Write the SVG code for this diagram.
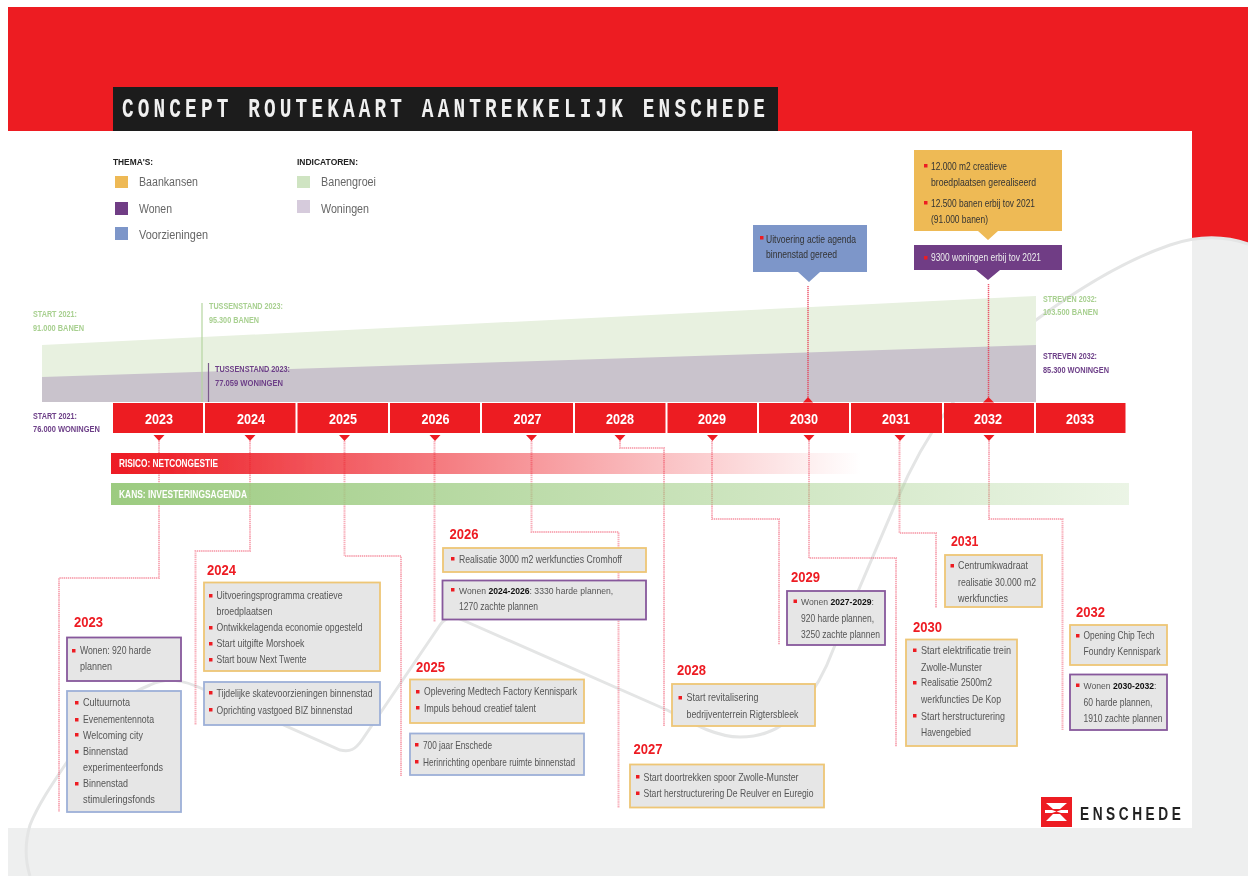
<svg xmlns="http://www.w3.org/2000/svg" width="1254" height="876" viewBox="0 0 1254 876">
<style>
text{font-family:"Liberation Sans",Arial,sans-serif;font-size:10.5px;fill:#555}
.title{font-family:"Liberation Mono",monospace;font-weight:700;font-size:27px;fill:#f0f0f0}
.head{font-weight:700;font-size:9.5px;fill:#222}
.leg{font-size:12.5px;fill:#666}
.g{font-weight:700;font-size:9px;fill:#a8d090}
.p{font-weight:700;font-size:9px;fill:#6d3f88}
.yr{font-weight:700;font-size:14.5px;fill:#fff;text-anchor:middle}
.h{font-weight:700;font-size:15.5px;fill:#ed1c24}
.bar{font-weight:700;font-size:10px;fill:#fff}
.d{fill:#333}.w{fill:#eee}
.b{font-weight:700;fill:#111}
.s{font-size:8.600px}
.bul{fill:#ed1c24;width:3.500px;height:3.500px}
.box{fill:#e6e6e6;stroke-width:1.8}
.go{stroke:#eec676}.pu{stroke:#87589c}.bl{stroke:#9db0d8}
.yrbox{fill:#ed1c24}
.con{fill:none;stroke:#f0506a;stroke-width:2;stroke-dasharray:1.400 .7;opacity:.47}
.con2{fill:none;stroke:#e8304a;stroke-width:1.500;stroke-dasharray:1.200 .8;opacity:.8}
.tri{fill:#ed1c24}
.logo{font-weight:700;font-size:19px;fill:#222}
</style>
<defs>
<linearGradient id="rg" x1="0" x2="1" y1="0" y2="0"><stop offset="0" stop-color="#ed1c24"/><stop offset=".08" stop-color="#ed1c24" stop-opacity=".95"/><stop offset="1" stop-color="#ed1c24" stop-opacity="0"/></linearGradient>
<linearGradient id="gg" x1="0" x2="1" y1="0" y2="0"><stop offset="0" stop-color="#9ccb80"/><stop offset="1" stop-color="#9ccb80" stop-opacity=".2"/></linearGradient>
<filter id="soft" x="0" y="0" width="100%" height="100%"><feGaussianBlur stdDeviation=".4"/></filter>
</defs>
<rect width="1254" height="876" fill="#fff"/>
<g filter="url(#soft)">
<g id="background">
<rect x="8" y="7" width="1240" height="240" fill="#ed1c24"/>
<path d="M1192,240Q1212,234 1248,244V876H1192Z" fill="#eeefef"/>
<rect x="8" y="828" width="1240" height="48" fill="#eeefef"/>
<rect x="8" y="131" width="1184" height="697" fill="#fff"/>
<path d="M1248,244C1225,236 1200,235 1170,245C1120,262 1070,295 1036,320C980,362 930,420 897,500L833,650C825,672 815,690 800,708C785,727 765,737 740,737C715,737 690,722 667,710L467,622C455,616 447,615 440,625L362,740C355,750 350,752 340,750L205,690C180,678 165,678 150,685C125,695 95,715 75,750C60,773 40,800 30,825C25,842 25,860 30,876" fill="none" stroke="#e4e5e5" stroke-width="3"/>
</g>
<g id="title">
<rect x="113" y="87" width="665" height="44" fill="#1d1d1d"/>
<text class="title" transform="translate(122,117) scale(.72,1)" textLength="893" lengthAdjust="spacing">CONCEPT ROUTEKAART AANTREKKELIJK ENSCHEDE</text>
</g>
<g id="legend">
<text class="head" x="113" y="165" textLength="40" lengthAdjust="spacingAndGlyphs">THEMA'S:</text>
<rect x="115" y="176" width="13" height="12" fill="#eeb955"/><text class="leg" x="139" y="186" textLength="59" lengthAdjust="spacingAndGlyphs">Baankansen</text>
<rect x="115" y="202" width="13" height="13" fill="#6f3d85"/><text class="leg" x="139" y="213" textLength="33" lengthAdjust="spacingAndGlyphs">Wonen</text>
<rect x="115" y="227" width="13" height="13" fill="#7d96c9"/><text class="leg" x="139" y="239" textLength="69" lengthAdjust="spacingAndGlyphs">Voorzieningen</text>
<text class="head" x="297" y="165" textLength="61" lengthAdjust="spacingAndGlyphs">INDICATOREN:</text>
<rect x="297" y="176" width="13" height="12" fill="#cfe4c2"/><text class="leg" x="321" y="186" textLength="55" lengthAdjust="spacingAndGlyphs">Banengroei</text>
<rect x="297" y="200" width="13" height="13" fill="#d6cbdc"/><text class="leg" x="321" y="213" textLength="48" lengthAdjust="spacingAndGlyphs">Woningen</text>
</g>
<g id="indicators">
<polygon points="42,345 1036,296 1036,402 42,402" fill="#e8f1e0"/>
<polygon points="42,377 1036,345 1036,402 42,402" fill="#c9c3cc"/>
<path d="M202,303V402" stroke="#b5d6a0" stroke-width="1.200"/>
<path d="M208.500,363V402" stroke="#7a5a8a" stroke-width="1.200"/>
<text class="g" x="33" y="317" textLength="44" lengthAdjust="spacingAndGlyphs">START 2021:</text>
<text class="g" x="33" y="331" textLength="51" lengthAdjust="spacingAndGlyphs">91.000 BANEN</text>
<text class="g" x="209" y="309" textLength="74" lengthAdjust="spacingAndGlyphs">TUSSENSTAND 2023:</text>
<text class="g" x="209" y="323" textLength="50" lengthAdjust="spacingAndGlyphs">95.300 BANEN</text>
<text class="p" x="215" y="372" textLength="75" lengthAdjust="spacingAndGlyphs">TUSSENSTAND 2023:</text>
<text class="p" x="215" y="386" textLength="68" lengthAdjust="spacingAndGlyphs">77.059 WONINGEN</text>
<text class="p" x="33" y="419" textLength="44" lengthAdjust="spacingAndGlyphs">START 2021:</text>
<text class="p" x="33" y="432" textLength="67" lengthAdjust="spacingAndGlyphs">76.000 WONINGEN</text>
<text class="g" x="1043" y="302" textLength="54" lengthAdjust="spacingAndGlyphs">STREVEN 2032:</text>
<text class="g" x="1043" y="315" textLength="55" lengthAdjust="spacingAndGlyphs">103.500 BANEN</text>
<text class="p" x="1043" y="359" textLength="54" lengthAdjust="spacingAndGlyphs">STREVEN 2032:</text>
<text class="p" x="1043" y="373" textLength="66" lengthAdjust="spacingAndGlyphs">85.300 WONINGEN</text>
</g>
<g id="connectors">
<path class="con" d="M159,441V578H59V812"/>
<path class="con" d="M250,441V551H195.500V725"/>
<path class="con" d="M344.500,441V556H401V776"/>
<path class="con" d="M434.500,441V622"/>
<path class="con" d="M531.500,441V532H618.500V808"/>
<path class="con" d="M620,441V448H664V726"/>
<path class="con" d="M712,441V519H779V645"/>
<path class="con" d="M809,441V558H896V747"/>
<path class="con" d="M899.500,441V533H936V608"/>
<path class="con" d="M989,441V519H1062.500V730"/>
<path class="con2" d="M808,286V400"/>
<path class="con2" d="M988.500,284V400"/>
<polygon class="tri" points="803,402.500 808,397 813,402.500"/>
<polygon class="tri" points="983,402.500 988.500,397 994,402.500"/>
<polygon class="tri" points="153.500,435 164.500,435 159,441"/>
<polygon class="tri" points="244.500,435 255.500,435 250,441"/>
<polygon class="tri" points="339,435 350,435 344.500,441"/>
<polygon class="tri" points="429.500,435 440.500,435 435,441"/>
<polygon class="tri" points="526,435 537,435 531.500,441"/>
<polygon class="tri" points="614.500,435 625.500,435 620,441"/>
<polygon class="tri" points="707,435 718,435 712.500,441"/>
<polygon class="tri" points="803.500,435 814.500,435 809,441"/>
<polygon class="tri" points="894.500,435 905.500,435 900,441"/>
<polygon class="tri" points="983.500,435 994.500,435 989,441"/>
</g>
<g id="timeline">
<rect class="yrbox" x="113" y="403" width="90" height="30"/><text class="yr" x="159" y="424" textLength="28" lengthAdjust="spacingAndGlyphs">2023</text>
<rect class="yrbox" x="205" y="403" width="90.500" height="30"/><text class="yr" x="251" y="424" textLength="28" lengthAdjust="spacingAndGlyphs">2024</text>
<rect class="yrbox" x="297.500" y="403" width="90.500" height="30"/><text class="yr" x="343" y="424" textLength="28" lengthAdjust="spacingAndGlyphs">2025</text>
<rect class="yrbox" x="390" y="403" width="90" height="30"/><text class="yr" x="435.500" y="424" textLength="28" lengthAdjust="spacingAndGlyphs">2026</text>
<rect class="yrbox" x="482" y="403" width="91" height="30"/><text class="yr" x="527.500" y="424" textLength="28" lengthAdjust="spacingAndGlyphs">2027</text>
<rect class="yrbox" x="575" y="403" width="90.500" height="30"/><text class="yr" x="620" y="424" textLength="28" lengthAdjust="spacingAndGlyphs">2028</text>
<rect class="yrbox" x="667.500" y="403" width="89.500" height="30"/><text class="yr" x="712" y="424" textLength="28" lengthAdjust="spacingAndGlyphs">2029</text>
<rect class="yrbox" x="759" y="403" width="90" height="30"/><text class="yr" x="804" y="424" textLength="28" lengthAdjust="spacingAndGlyphs">2030</text>
<rect class="yrbox" x="851" y="403" width="91" height="30"/><text class="yr" x="896" y="424" textLength="28" lengthAdjust="spacingAndGlyphs">2031</text>
<rect class="yrbox" x="944" y="403" width="90" height="30"/><text class="yr" x="988" y="424" textLength="28" lengthAdjust="spacingAndGlyphs">2032</text>
<rect class="yrbox" x="1036" y="403" width="89.500" height="30"/><text class="yr" x="1080" y="424" textLength="28" lengthAdjust="spacingAndGlyphs">2033</text>
</g>
<g id="risico">
<rect x="111" y="453" width="750" height="21" fill="url(#rg)"/>
<text class="bar" x="119" y="467" textLength="99" lengthAdjust="spacingAndGlyphs">RISICO: NETCONGESTIE</text>
</g>
<g id="kans">
<rect x="111" y="483" width="1018" height="22" fill="url(#gg)"/>
<text class="bar" x="119" y="498" textLength="128" lengthAdjust="spacingAndGlyphs">KANS: INVESTERINGSAGENDA</text>
</g>
<g id="callout-voorzieningen">
<path d="M753,225H867V272H820L809,282L798,272H753Z" fill="#7d96c9"/>
<rect class="bul" x="760" y="236" width="3" height="3"/>
<text class="d" x="766" y="243" textLength="90" lengthAdjust="spacingAndGlyphs">Uitvoering actie agenda</text>
<text class="d" x="766" y="258" textLength="71" lengthAdjust="spacingAndGlyphs">binnenstad gereed</text>
</g>
<g id="callout-baankansen">
<path d="M914,150H1062V231H998L988,240L978,231H914Z" fill="#eeba55"/>
<rect class="bul" x="924" y="164" width="3" height="3"/>
<text class="d" x="931" y="170" textLength="76" lengthAdjust="spacingAndGlyphs">12.000 m2 creatieve</text>
<text class="d" x="931" y="186" textLength="105" lengthAdjust="spacingAndGlyphs">broedplaatsen gerealiseerd</text>
<rect class="bul" x="924" y="201" width="3" height="3"/>
<text class="d" x="931" y="207" textLength="104" lengthAdjust="spacingAndGlyphs">12.500 banen erbij tov 2021</text>
<text class="d" x="931" y="223" textLength="57" lengthAdjust="spacingAndGlyphs">(91.000 banen)</text>
</g>
<g id="callout-wonen">
<path d="M914,245H1062V270H1000L988,280L976,270H914Z" fill="#6f3d85"/>
<rect class="bul" x="924" y="256" width="3" height="3"/>
<text class="w" x="931" y="261" textLength="110" lengthAdjust="spacingAndGlyphs">9300 woningen erbij tov 2021</text>
</g>
<g id="y2023">
<text class="h" x="74" y="627" textLength="29" lengthAdjust="spacingAndGlyphs">2023</text>
<rect class="box pu" x="67" y="637.500" width="114" height="43.500"/>
<rect class="bul" x="72" y="649" width="3" height="3"/>
<text x="80" y="654" textLength="71" lengthAdjust="spacingAndGlyphs">Wonen: 920 harde</text>
<text x="80" y="670" textLength="32" lengthAdjust="spacingAndGlyphs">plannen</text>
<rect class="box bl" x="67" y="691" width="114" height="121"/>
<rect class="bul" x="75" y="701" width="3" height="3"/><text x="83" y="705.500" textLength="47" lengthAdjust="spacingAndGlyphs">Cultuurnota</text>
<rect class="bul" x="75" y="718" width="3" height="3"/><text x="83" y="722.500" textLength="71" lengthAdjust="spacingAndGlyphs">Evenementennota</text>
<rect class="bul" x="75" y="733" width="3" height="3"/><text x="83" y="738.500" textLength="60" lengthAdjust="spacingAndGlyphs">Welcoming city</text>
<rect class="bul" x="75" y="750" width="3" height="3"/><text x="83" y="755" textLength="45" lengthAdjust="spacingAndGlyphs">Binnenstad</text>
<text x="83" y="770.500" textLength="80" lengthAdjust="spacingAndGlyphs">experimenteerfonds</text>
<rect class="bul" x="75" y="782" width="3" height="3"/><text x="83" y="787" textLength="45" lengthAdjust="spacingAndGlyphs">Binnenstad</text>
<text x="83" y="803" textLength="72" lengthAdjust="spacingAndGlyphs">stimuleringsfonds</text>
</g>
<g id="y2024">
<text class="h" x="207" y="575" textLength="29" lengthAdjust="spacingAndGlyphs">2024</text>
<rect class="box go" x="204" y="582.500" width="176" height="88.500"/>
<rect class="bul" x="209" y="594" width="3" height="3"/><text x="216.500" y="599" textLength="126" lengthAdjust="spacingAndGlyphs">Uitvoeringsprogramma creatieve</text>
<text x="216.500" y="615" textLength="56" lengthAdjust="spacingAndGlyphs">broedplaatsen</text>
<rect class="bul" x="209" y="626" width="3" height="3"/><text x="216.500" y="631" textLength="146" lengthAdjust="spacingAndGlyphs">Ontwikkelagenda economie opgesteld</text>
<rect class="bul" x="209" y="642" width="3" height="3"/><text x="216.500" y="647" textLength="88" lengthAdjust="spacingAndGlyphs">Start uitgifte Morshoek</text>
<rect class="bul" x="209" y="658" width="3" height="3"/><text x="216.500" y="663" textLength="90" lengthAdjust="spacingAndGlyphs">Start bouw Next Twente</text>
<rect class="box bl" x="204" y="682" width="176" height="43"/>
<rect class="bul" x="209" y="691" width="3" height="3"/><text x="216.500" y="696.500" textLength="156" lengthAdjust="spacingAndGlyphs">Tijdelijke skatevoorzieningen binnenstad</text>
<rect class="bul" x="209" y="708" width="3" height="3"/><text x="216.500" y="713.500" textLength="136" lengthAdjust="spacingAndGlyphs">Oprichting vastgoed BIZ binnenstad</text>
</g>
<g id="y2025">
<text class="h" x="416" y="672" textLength="29" lengthAdjust="spacingAndGlyphs">2025</text>
<rect class="box go" x="410" y="679.500" width="174" height="43.500"/>
<rect class="bul" x="416" y="690" width="3" height="3"/><text x="424" y="695" textLength="153" lengthAdjust="spacingAndGlyphs">Oplevering Medtech Factory Kennispark</text>
<rect class="bul" x="416" y="706" width="3" height="3"/><text x="424" y="712" textLength="112" lengthAdjust="spacingAndGlyphs">Impuls behoud creatief talent</text>
<rect class="box bl" x="410" y="733.500" width="174" height="41.500"/>
<rect class="bul" x="415" y="743" width="3" height="3"/><text x="423" y="749" textLength="69" lengthAdjust="spacingAndGlyphs">700 jaar Enschede</text>
<rect class="bul" x="415" y="760" width="3" height="3"/><text x="423" y="765.500" textLength="152" lengthAdjust="spacingAndGlyphs">Herinrichting openbare ruimte binnenstad</text>
</g>
<g id="y2026">
<text class="h" x="449.500" y="539" textLength="29" lengthAdjust="spacingAndGlyphs">2026</text>
<rect class="box go" x="443" y="548" width="203" height="24"/>
<rect class="bul" x="451" y="557" width="3" height="3"/><text x="459" y="562.500" textLength="163" lengthAdjust="spacingAndGlyphs">Realisatie 3000 m2 werkfuncties Cromhoff</text>
<rect class="box pu" x="442.500" y="580.500" width="203.500" height="39"/>
<rect class="bul" x="451" y="588" width="3" height="3"/><text class="s" x="459" y="594">Wonen <tspan class="b">2024-2026</tspan>: 3330 harde plannen,</text>
<text x="459" y="609.500" textLength="79" lengthAdjust="spacingAndGlyphs">1270 zachte plannen</text>
</g>
<g id="y2027">
<text class="h" x="633.500" y="754" textLength="29" lengthAdjust="spacingAndGlyphs">2027</text>
<rect class="box go" x="630" y="764.500" width="194" height="43"/>
<rect class="bul" x="636" y="775" width="3" height="3"/><text x="643.500" y="780.500" textLength="155" lengthAdjust="spacingAndGlyphs">Start doortrekken spoor Zwolle-Munster</text>
<rect class="bul" x="636" y="791.500" width="3" height="3"/><text x="643.500" y="797" textLength="170" lengthAdjust="spacingAndGlyphs">Start herstructurering De Reulver en Euregio</text>
</g>
<g id="y2028">
<text class="h" x="677" y="675" textLength="29" lengthAdjust="spacingAndGlyphs">2028</text>
<rect class="box go" x="672" y="684" width="143" height="42"/>
<rect class="bul" x="678.500" y="696" width="3" height="3"/><text x="686.500" y="701" textLength="72" lengthAdjust="spacingAndGlyphs">Start revitalisering</text>
<text x="686.500" y="718" textLength="112" lengthAdjust="spacingAndGlyphs">bedrijventerrein Rigtersbleek</text>
</g>
<g id="y2029">
<text class="h" x="791" y="582" textLength="29" lengthAdjust="spacingAndGlyphs">2029</text>
<rect class="box pu" x="787" y="591" width="98" height="54"/>
<rect class="bul" x="793.500" y="599.500" width="3" height="3"/><text class="s" x="801" y="605">Wonen <tspan class="b">2027-2029</tspan>:</text>
<text x="801" y="621.500" textLength="73" lengthAdjust="spacingAndGlyphs">920 harde plannen,</text>
<text x="801" y="638" textLength="79" lengthAdjust="spacingAndGlyphs">3250 zachte plannen</text>
</g>
<g id="y2030">
<text class="h" x="913" y="632" textLength="29" lengthAdjust="spacingAndGlyphs">2030</text>
<rect class="box go" x="906" y="639.500" width="111" height="106.500"/>
<rect class="bul" x="913" y="648.500" width="3" height="3"/><text x="921" y="654" textLength="90" lengthAdjust="spacingAndGlyphs">Start elektrificatie trein</text>
<text x="921" y="670.500" textLength="61" lengthAdjust="spacingAndGlyphs">Zwolle-Munster</text>
<rect class="bul" x="913" y="681" width="3" height="3"/><text x="921" y="686" textLength="71" lengthAdjust="spacingAndGlyphs">Realisatie 2500m2</text>
<text x="921" y="703" textLength="80" lengthAdjust="spacingAndGlyphs">werkfuncties De Kop</text>
<rect class="bul" x="913" y="714" width="3" height="3"/><text x="921" y="719.500" textLength="84" lengthAdjust="spacingAndGlyphs">Start herstructurering</text>
<text x="921" y="735.500" textLength="50" lengthAdjust="spacingAndGlyphs">Havengebied</text>
</g>
<g id="y2031">
<text class="h" x="951" y="546" textLength="27.500" lengthAdjust="spacingAndGlyphs">2031</text>
<rect class="box go" x="945" y="555" width="97" height="52"/>
<rect class="bul" x="950.500" y="564" width="3" height="3"/><text x="958" y="569" textLength="70" lengthAdjust="spacingAndGlyphs">Centrumkwadraat</text>
<text x="958" y="585.500" textLength="78" lengthAdjust="spacingAndGlyphs">realisatie 30.000 m2</text>
<text x="958" y="601.500" textLength="50" lengthAdjust="spacingAndGlyphs">werkfuncties</text>
</g>
<g id="y2032">
<text class="h" x="1076" y="617" textLength="29" lengthAdjust="spacingAndGlyphs">2032</text>
<rect class="box go" x="1070" y="625" width="97" height="40"/>
<rect class="bul" x="1076" y="634" width="3" height="3"/><text x="1083.500" y="639" textLength="71" lengthAdjust="spacingAndGlyphs">Opening Chip Tech</text>
<text x="1083.500" y="655" textLength="77" lengthAdjust="spacingAndGlyphs">Foundry Kennispark</text>
<rect class="box pu" x="1070" y="674.500" width="97" height="55.500"/>
<rect class="bul" x="1076" y="683.500" width="3" height="3"/><text class="s" x="1083.500" y="689">Wonen <tspan class="b">2030-2032</tspan>:</text>
<text x="1083.500" y="705.500" textLength="69" lengthAdjust="spacingAndGlyphs">60 harde plannen,</text>
<text x="1083.500" y="722" textLength="79" lengthAdjust="spacingAndGlyphs">1910 zachte plannen</text>
</g>
<g id="logo">
<rect x="1041" y="797" width="31" height="30" fill="#ed1c24"/>
<path d="M1046,803H1067L1060,809H1053ZM1045,810H1052L1056.500,811.500L1061,810H1068V813H1061L1056.500,811.500L1052,813H1045ZM1053,814H1060L1067,821H1046Z" fill="#fff"/>
<text class="logo" transform="translate(1080,820) scale(.72,1)" textLength="140" lengthAdjust="spacing">ENSCHEDE</text>
</g>
</g>
</svg>
